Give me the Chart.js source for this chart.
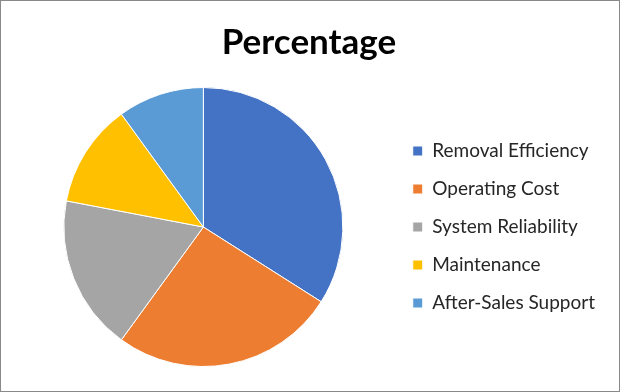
<!DOCTYPE html>
<html>
<head>
<meta charset="utf-8">
<script src="https://cdn.jsdelivr.net/npm/chart.js@4"></script>
<style>
    body { margin: 0; background: #fff; }
    #wrap { width: 618px; height: 390px; border: 1px solid #898989; }
</style>
</head>
<body>
<div id="wrap"><canvas id="pieChart" width="618" height="390"></canvas></div>
<script>
const categories = ['Removal Efficiency', 'Operating Cost', 'System Reliability', 'Maintenance', 'After-Sales Support']
const percentages = [34, 26, 18, 12, 10]
const sliceColors = ['#4472C4', '#ED7D31', '#A5A5A5', '#FFC000', '#5B9BD5']

const data = {
    labels: categories,
    datasets: [{
        label: 'Percentage',
        data: percentages,
        backgroundColor: sliceColors,
        borderColor: '#ffffff',
        borderWidth: 1
    }]
}

const config = {
    type: 'pie',
    data: data,
    options: {
        responsive: false,
        animation: false,
        layout: {
            padding: { top: 11, bottom: 24, left: 12, right: 14 }
        },
        plugins: {
            title: {
                display: true,
                text: 'Percentage',
                color: '#000',
                font: { family: 'Lato', size: 35, weight: 'bold' },
                padding: { top: 10, bottom: 23 }
            },
            legend: {
                position: 'right',
                fullSize: false,
                labels: {
                    boxWidth: 10,
                    boxHeight: 10,
                    padding: 19,
                    color: '#262626',
                    font: { family: 'Lato', size: 19 }
                }
            },
            tooltip: { enabled: false }
        }
    }
}

const pieChart = new Chart(document.getElementById('pieChart').getContext('2d'), config)
</script>
</body>
</html>
